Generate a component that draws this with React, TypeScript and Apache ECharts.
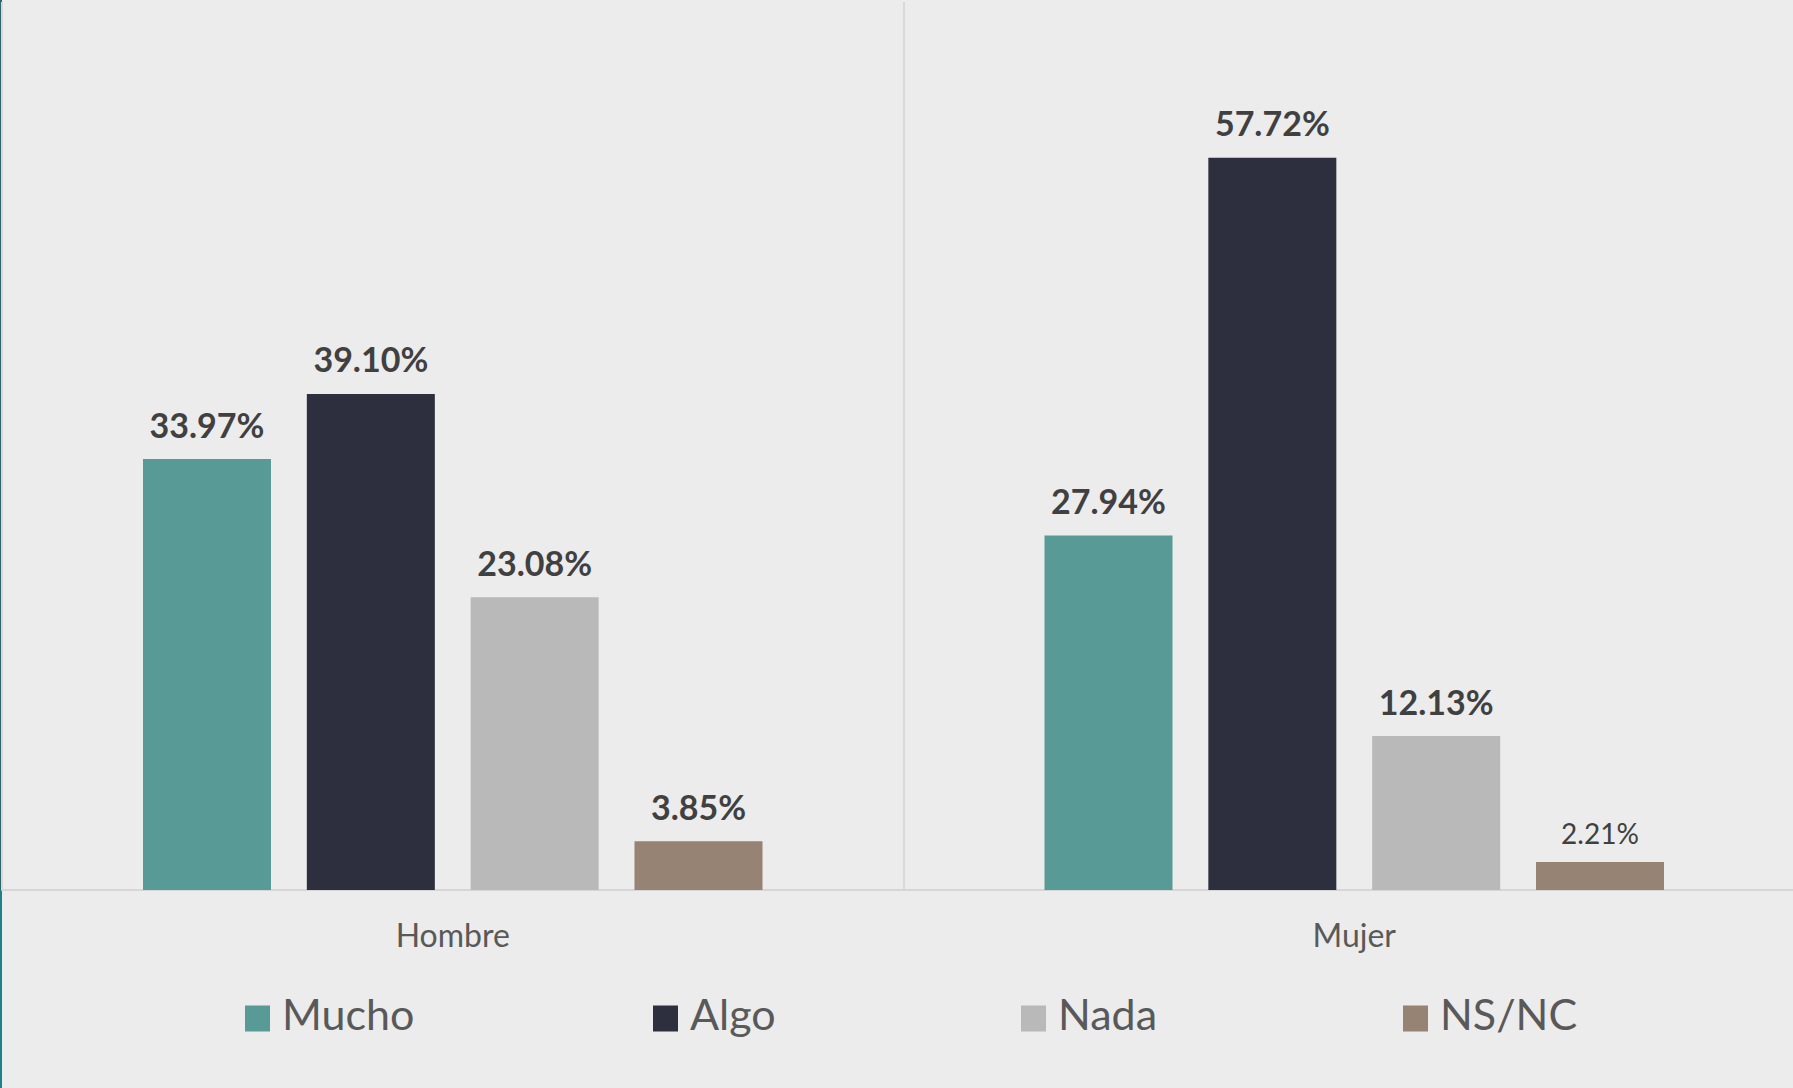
import React, { useEffect, useRef } from "react";
import * as echarts from "echarts";

const categories = ["Hombre", "Mujer"];
const seriesNames = ["Mucho", "Algo", "Nada", "NS/NC"];
const mucho = [33.97, 27.94];
const algo = [39.1, 57.72];
const nada = [23.08, 12.13];
const nsnc = [3.85, 2.21];
const colors = ["#589B96", "#2E2F3E", "#B9B9B9", "#978373"];
const legendLefts = [245, 653, 1021, 1403];

export default function App() {
  const ref = useRef<HTMLDivElement>(null);
  useEffect(() => {
    const chart = echarts.init(ref.current!, null, { renderer: "svg" });
    const values = [mucho, algo, nada, nsnc];
    const boldLabel = {
      show: true,
      position: "top",
      distance: 18,
      fontFamily: "Lato",
      fontWeight: "bold",
      fontSize: 34,
      color: "#404040",
      formatter: (p: any) => p.value.toFixed(2) + "%",
    };
    const series = seriesNames.map((name, i) => ({
      name,
      type: "bar",
      barWidth: 128,
      barGap: "28%",
      itemStyle: { color: colors[i] },
      label: boldLabel,
      data: values[i].map((v, j) => {
        if (i === 3 && j === 1) {
          return {
            value: v,
            label: { fontWeight: "normal", fontSize: 28, distance: 15 },
          };
        }
        return v;
      }),
    }));
    chart.setOption({
      animation: false,
      backgroundColor: "#ECECEC",
      grid: { left: 2, right: 0, top: 2, height: 888, containLabel: false },
      legend: seriesNames.map((n, i) => ({
        data: [n],
        left: legendLefts[i],
        top: 990,
        padding: 0,
        itemWidth: 25,
        itemHeight: 46,
        itemGap: 10,
        icon: "path://M0,0 M0,15.5 L25,15.5 L25,41.5 L0,41.5 Z M0,46",
        textStyle: { fontFamily: "Lato", fontSize: 43, color: "#595959", padding: [0, 0, 0, 7] },
      })),
      xAxis: {
        type: "category",
        data: categories,
        axisLine: { show: true, lineStyle: { color: "#D6D6D6", width: 2 } },
        axisTick: { show: false },
        splitLine: { show: true, interval: 0, lineStyle: { color: "#D9D9D9", width: 2 } },
        axisLabel: { margin: 28, fontFamily: "Lato", fontSize: 32, color: "#595959" },
      },
      yAxis: {
        type: "value",
        min: 0,
        max: 70,
        show: false,
        splitLine: { show: false },
      },
      graphic: [
        { type: "rect", left: 0, top: 0, shape: { x: 0, y: 0, width: 2, height: 890 }, style: { fill: "#2E666B" } },
        { type: "rect", left: 0, top: 890, shape: { x: 0, y: 0, width: 2, height: 198 }, style: { fill: "#1D8189" } },
      ],
      series,
    });
    return () => chart.dispose();
  }, []);
  return (
    <div
      style={{ position: "absolute", left: 0, top: 0, width: 1793, height: 1088, overflow: "hidden" }}
    >
      <div ref={ref} style={{ width: 1805, height: 1088 }} />
    </div>
  );
}
